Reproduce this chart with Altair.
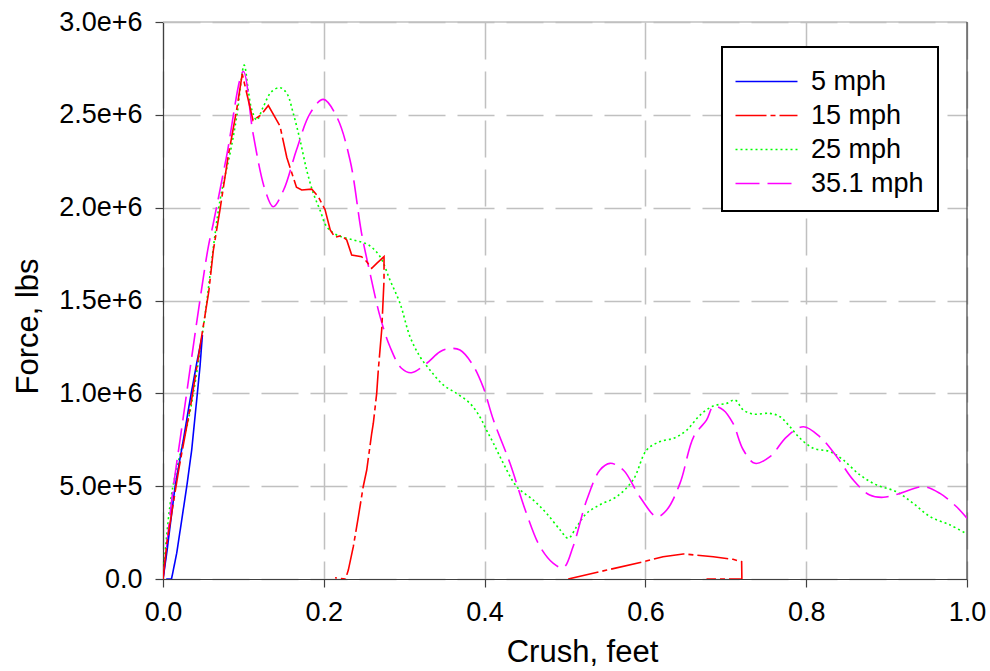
import altair as alt
import pandas as pd

SERIES = ["5 mph", "15 mph", "25 mph", "35.1 mph"]
COLORS = ["#0000ff", "#ff0000", "#00ff00", "#ff00ff"]
DASHES = [[1, 0], [31, 4, 5, 4], [2, 3], [24, 8]]

# 5 mph (loading then unloading loop)
x5 = [0.0, 0.0046, 0.015, 0.0253, 0.0336, 0.0419, 0.049, 0.046, 0.0419, 0.0357, 0.0295, 0.0233, 0.017, 0.012, 0.0105, 0.004]
y5 = [0.0, 0.138e6, 0.497e6, 0.749e6, 0.964e6, 1.162e6, 1.314e6, 1.143e6, 0.964e6, 0.695e6, 0.497e6, 0.318e6, 0.138e6, 0.03e6, 0.0, 0.0]

# 15 mph, first segment
x15a = [0.0, 0.005, 0.02, 0.035, 0.057, 0.0626, 0.0709, 0.081, 0.0917, 0.0986, 0.105, 0.112, 0.122, 0.131, 0.1455, 0.154,
        0.166, 0.1725, 0.185, 0.193, 0.2015, 0.208, 0.214, 0.222, 0.2285, 0.2347, 0.247, 0.2534, 0.2596, 0.2658, 0.2749,
        0.2749, 0.273, 0.272, 0.2678, 0.2658, 0.2616, 0.2596, 0.2534, 0.249, 0.243, 0.2367, 0.2305, 0.227, 0.214]
y15a = [0.0, 0.2e6, 0.6e6, 0.95e6, 1.55e6, 1.77e6, 1.99e6, 2.275e6, 2.53e6, 2.72e6, 2.6e6, 2.47e6, 2.5e6, 2.55e6, 2.44e6, 2.27e6,
        2.11e6, 2.095e6, 2.10e6, 2.06e6, 1.99e6, 1.88e6, 1.84e6, 1.85e6, 1.826e6, 1.745e6, 1.736e6, 1.709e6, 1.673e6, 1.70e6, 1.736e6,
        1.61e6, 1.43e6, 1.341e6, 1.126e6, 1.0e6, 0.839e6, 0.785e6, 0.587e6, 0.497e6, 0.336e6, 0.174e6, 0.048e6, 0.0, 0.007e6]
# 15 mph, second segment (rebound)
x15b = [0.504, 0.552, 0.5975, 0.622, 0.647, 0.6845, 0.709, 0.7197, 0.72, 0.676]
y15b = [0.0, 0.048e6, 0.093e6, 0.12e6, 0.135e6, 0.12e6, 0.106e6, 0.093e6, 0.0, 0.0]

# 25 mph
x25 = [0.0, 0.0108, 0.0336, 0.05, 0.0709, 0.0833, 0.0917, 0.101, 0.106, 0.110, 0.1166, 0.1248, 0.135, 0.1455, 0.154, 0.162,
       0.1704, 0.1787, 0.187, 0.1953, 0.2036, 0.216, 0.2367, 0.2553, 0.27, 0.2823, 0.2948, 0.3072, 0.3197, 0.332, 0.3486,
       0.365, 0.3818, 0.394, 0.4026, 0.411, 0.4233, 0.44, 0.4606, 0.477, 0.494, 0.504, 0.5145, 0.527, 0.5435, 0.564,
       0.5846, 0.6016, 0.618, 0.635, 0.651, 0.668, 0.6845, 0.701, 0.7114, 0.7218, 0.7342, 0.755, 0.7674, 0.7798, 0.7923,
       0.809, 0.8296, 0.846, 0.867, 0.8877, 0.9123, 0.933, 0.954, 0.979, 1.0]
y25 = [0.0, 0.46e6, 0.9e6, 1.35e6, 2.04e6, 2.29e6, 2.49e6, 2.768e6, 2.634e6, 2.535e6, 2.472e6, 2.544e6, 2.625e6, 2.646e6, 2.616e6, 2.508e6,
       2.365e6, 2.203e6, 2.077e6, 1.987e6, 1.897e6, 1.853e6, 1.826e6, 1.8e6, 1.736e6, 1.61e6, 1.485e6, 1.305e6, 1.197e6, 1.126e6, 1.045e6,
       1.0e6, 0.946e6, 0.874e6, 0.80e6, 0.731e6, 0.623e6, 0.497e6, 0.425e6, 0.354e6, 0.264e6, 0.219e6, 0.282e6, 0.354e6, 0.40e6, 0.443e6,
       0.533e6, 0.695e6, 0.74e6, 0.758e6, 0.80e6, 0.883e6, 0.932e6, 0.946e6, 0.964e6, 0.91e6, 0.888e6, 0.892e6, 0.874e6, 0.82e6, 0.758e6,
       0.704e6, 0.686e6, 0.641e6, 0.56e6, 0.506e6, 0.47e6, 0.408e6, 0.336e6, 0.291e6, 0.242e6]

# 35.1 mph
x35 = [0.0, 0.0025, 0.0108, 0.0253, 0.046, 0.0564, 0.0626, 0.079, 0.0999, 0.112, 0.127, 0.137, 0.15, 0.166, 0.183, 0.1994,
       0.216, 0.2326, 0.247, 0.2575, 0.27, 0.2823, 0.2966, 0.309, 0.328, 0.3445, 0.357, 0.3694, 0.384, 0.398, 0.411, 0.4316,
       0.452, 0.469, 0.4855, 0.498, 0.51, 0.527, 0.5435, 0.556, 0.5725, 0.593, 0.614, 0.6265, 0.643, 0.66, 0.676, 0.6845,
       0.697, 0.709, 0.7218, 0.7363, 0.755, 0.7757, 0.7964, 0.817, 0.838, 0.8586, 0.879, 0.896, 0.9167, 0.9457, 0.9664, 0.987, 1.0]
y35 = [0.0, 0.084e6, 0.425e6, 0.874e6, 1.503e6, 1.79e6, 1.916e6, 2.275e6, 2.733e6, 2.40e6, 2.095e6, 2.005e6, 2.095e6, 2.31e6, 2.508e6, 2.583e6,
       2.49e6, 2.257e6, 1.862e6, 1.647e6, 1.413e6, 1.251e6, 1.135e6, 1.111e6, 1.162e6, 1.224e6, 1.242e6, 1.233e6, 1.162e6, 1.036e6, 0.856e6, 0.623e6,
       0.354e6, 0.174e6, 0.0845e6, 0.061e6, 0.174e6, 0.425e6, 0.587e6, 0.623e6, 0.587e6, 0.443e6, 0.336e6, 0.372e6, 0.515e6, 0.766e6, 0.856e6, 0.928e6,
       0.91e6, 0.838e6, 0.695e6, 0.623e6, 0.659e6, 0.766e6, 0.82e6, 0.766e6, 0.659e6, 0.533e6, 0.452e6, 0.44e6, 0.461e6, 0.497e6, 0.461e6, 0.389e6, 0.327e6]

X_TICKS = [0.0, 0.2, 0.4, 0.6, 0.8, 1.0]
Y_TICKS = [0, 5e5, 1e6, 1.5e6, 2e6, 2.5e6, 3e6]

rows = []
def add(series, seg, xs, ys):
    for i, (a, b) in enumerate(zip(xs, ys)):
        rows.append({"series": series, "seg": seg, "i": i, "crush": a, "force": b})

add("5 mph", "5a", x5, y5)
add("15 mph", "15a", x15a, y15a)
add("15 mph", "15b", x15b, y15b)
add("25 mph", "25a", x25, y25)
add("35.1 mph", "35a", x35, y35)
df = pd.DataFrame(rows)

FONT = "Liberation Sans"

leg = alt.Legend(
    orient="none", legendX=559, legendY=25, title=" ", titleFontSize=4, titlePadding=3,
    symbolType="M-3,0H3", symbolSize=427, symbolStrokeWidth=1.6,
    symbolOffset=17, labelOffset=31,
    labelFontSize=27, labelFont=FONT, labelColor="black",
    padding=14, rowPadding=6,
    strokeColor="black", fillColor="white", cornerRadius=0,
)

xscale = alt.Scale(domain=[0, 1], nice=False)
yscale = alt.Scale(domain=[0, 3e6], nice=False)

xenc = alt.X("crush:Q", scale=xscale,
             axis=alt.Axis(title="Crush, feet", values=X_TICKS, format=".1f", titleX=419))
yenc = alt.Y("force:Q", scale=yscale,
             axis=alt.Axis(title="Force, lbs", values=Y_TICKS, titleY=304,
                           labelExpr="datum.value == 0 ? '0.0' : format(datum.value, '.1e')"))
cenc = alt.Color("series:N", scale=alt.Scale(domain=SERIES, range=COLORS), legend=leg)
denc = alt.StrokeDash("series:N", scale=alt.Scale(domain=SERIES, range=DASHES), legend=leg)

base = alt.Chart(df).encode(x=xenc, y=yenc, color=cenc, strokeDash=denc, detail="seg:N", order="i:Q")

lines_sharp = base.mark_line(strokeWidth=1.6, clip=True).transform_filter(
    alt.FieldOneOfPredicate(field="series", oneOf=["5 mph", "15 mph"]))
lines_smooth = base.mark_line(strokeWidth=1.6, clip=True, interpolate="catmull-rom").transform_filter(
    alt.FieldOneOfPredicate(field="series", oneOf=["25 mph", "35.1 mph"]))

top_rule = alt.Chart(pd.DataFrame({"force": [3e6]})).mark_rule(color="#c0c0c0", strokeWidth=1.5).encode(
    y=alt.Y("force:Q", scale=yscale))
right_rule = alt.Chart(pd.DataFrame({"crush": [1.0]})).mark_rule(color="#404040", strokeWidth=1.2).encode(
    x=alt.X("crush:Q", scale=xscale))

chart = alt.layer(top_rule, right_rule, lines_smooth, lines_sharp).properties(
    width=804, height=557,
    autosize=alt.AutoSizeParams(type="none"),
    padding={"left": 163, "top": 22, "right": 23, "bottom": 92},
).configure_view(stroke=None).configure_axis(
    labelFont=FONT, titleFont=FONT, labelFontSize=27, titleFontSize=31,
    labelColor="black", titleColor="black", titleFontWeight="normal",
    domainColor="#404040", domainWidth=1.2, tickColor="#404040", tickSize=8, tickWidth=1.2,
    gridColor="#c0c0c0", gridWidth=1.5, gridDash=[37, 12], labelFlush=False,
).configure_axisX(labelPadding=12, titlePadding=12).configure_axisY(labelPadding=13, titlePadding=14
).configure_legend(strokeWidth=2)

chart.save("out.html", embed_options={"renderer": "svg", "actions": False})
